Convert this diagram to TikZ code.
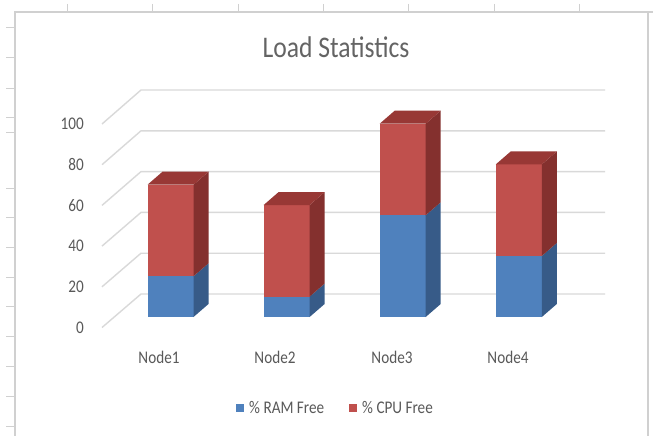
\documentclass[tikz,border=0pt]{standalone}
\usepackage{fontspec}
\setmainfont{Carlito}
\usepackage{graphicx}
\definecolor{txtc}{RGB}{89,89,89}
\definecolor{ttlc}{RGB}{100,100,100}
\definecolor{gridc}{RGB}{217,217,217}
\definecolor{framec}{RGB}{208,208,208}
\definecolor{blueF}{RGB}{79,129,189}
\definecolor{blueS}{RGB}{55,91,136}
\definecolor{redF}{RGB}{192,80,77}
\definecolor{redS}{RGB}{132,48,46}
\definecolor{redT}{RGB}{152,56,53}
\newcommand\vstretch[1]{\scalebox{1}[1.17]{#1}}
\begin{document}
\begin{tikzpicture}[x=1pt,y=-1pt,
  gridln/.style={draw=gridc,line width=1.4pt},
  frameln/.style={draw=framec,line width=1.1pt},
  tickln/.style={draw=framec,line width=1pt},
  lbl/.style={text=txtc,inner sep=0pt,font=\fontsize{15.2}{18}\selectfont},
  ttl/.style={text=ttlc,inner sep=0pt,font=\fontsize{25.6}{30}\selectfont},
  legsq/.style={inner sep=0pt,minimum size=8pt}]
\useasboundingbox (0,0) rectangle (653,436);
\fill[white] (0,0) rectangle (653,436);
% sheet frame and ticks
\draw[frameln] (15,436) -- (15,12) -- (653,12);
\draw[frameln] (648,12) -- (648,436);
\foreach \x in {67,152,238,323,408,494,579} \draw[tickln] (\x,4) -- (\x,12);
\foreach \y in {28,58,88,117,132,188,217,247,277,306,336,366,396,426} \draw[tickln] (6,\y) -- (15,\y);
% title
\node[ttl] (title) at (336,47) {\vstretch{Load Statistics}};
% gridlines
\foreach \k in {0,...,5} {
  \draw[gridln] (102,327.5-40.7*\k) -- (141,294-40.8*\k) -- (605,294-40.8*\k);
}
% y labels
\foreach \k/\v in {0/0,1/20,2/40,3/60,4/80,5/100} {
  \node[lbl,anchor=east] (yl\k) at (84,327.5-40.7*\k) {\vstretch{\v}};
}
% bars
\foreach \i/\L/\r/\c in {1/147.5/20/45,2/263.6/10/45,3/379.7/50/45,4/495.8/30/45} {
  \pgfmathsetmacro\ya{317-2.035*\r}
  \pgfmathsetmacro\yb{317-2.035*(\r+\c)}
  \pgfmathsetmacro\R{\L+46}
  \pgfmathsetmacro\Rs{\L+61}
  \pgfmathsetmacro\Ls{\L+15}
  \fill[blueF] (\L,317) rectangle (\R,\ya);
  \fill[blueS] (\R,317) -- (\Rs,304) -- (\Rs,\ya-13) -- (\R,\ya) -- cycle;
  \fill[redF] (\L,\ya) rectangle (\R,\yb);
  \fill[redS] (\R,\ya) -- (\Rs,\ya-13) -- (\Rs,\yb-13) -- (\R,\yb) -- cycle;
  \fill[redT] (\L,\yb) -- (\Ls,\yb-13) -- (\Rs,\yb-13) -- (\R,\yb) -- cycle;
}
% category labels
\node[lbl] (cat1) at (159,357) {\vstretch{Node1}};
\node[lbl] (cat2) at (275,357) {\vstretch{Node2}};
\node[lbl] (cat3) at (392,357) {\vstretch{Node3}};
\node[lbl] (cat4) at (508,357) {\vstretch{Node4}};
% legend
\node[legsq,fill=blueF] (legsq1) at (240,408) {};
\node[lbl,anchor=west] (leg1) at (249,408) {\vstretch{\% RAM Free}};
\node[legsq,fill=redF] (legsq2) at (352.5,408) {};
\node[lbl,anchor=west] (leg2) at (362,408) {\vstretch{\% CPU Free}};
\end{tikzpicture}
\end{document}
